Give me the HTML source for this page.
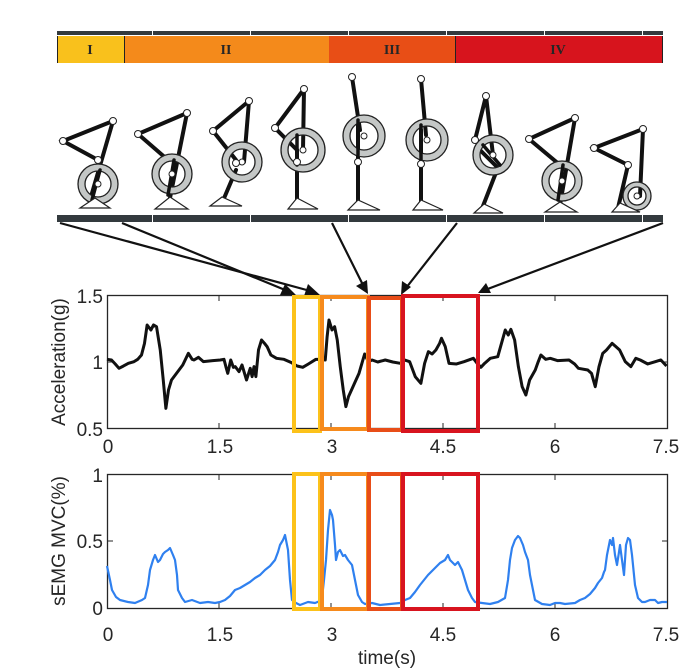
<!DOCTYPE html>
<html><head><meta charset="utf-8"><style>
html,body{margin:0;padding:0;background:#fff}
svg{display:block}
text{font-family:"Liberation Sans",sans-serif;font-size:19px;fill:#262626}
</style></head><body>
<svg width="691" height="672" viewBox="0 0 691 672" xmlns="http://www.w3.org/2000/svg">
<rect x="57" y="31" width="606" height="4" fill="#333a3e"/>
<g fill="#fff"><rect x="152" y="31" width="1" height="5"/><rect x="250" y="31" width="1" height="5"/><rect x="348" y="31" width="1" height="5"/><rect x="446" y="31" width="1" height="5"/><rect x="544" y="31" width="1" height="5"/><rect x="642" y="31" width="1" height="5"/></g>
<rect x="57" y="36" width="67" height="27" fill="#f9c11c"/>
<rect x="124" y="36" width="205" height="27" fill="#f48a1b"/>
<rect x="329" y="36" width="126" height="27" fill="#e84e16"/>
<rect x="455" y="36" width="208" height="27" fill="#d7141d"/>
<line x1="57.5" y1="36" x2="57.5" y2="63" stroke="#222"/><line x1="124.5" y1="36" x2="124.5" y2="63" stroke="#222"/><line x1="455.5" y1="36" x2="455.5" y2="63" stroke="#222"/><line x1="662.5" y1="36" x2="662.5" y2="63" stroke="#222"/>
<g text-anchor="middle">
<text x="90" y="54" style="font-family:'Liberation Serif',serif;font-size:14px;font-weight:bold" fill="#222">I</text>
<text x="226" y="54" style="font-family:'Liberation Serif',serif;font-size:14px;font-weight:bold" fill="#222">II</text>
<text x="392" y="54" style="font-family:'Liberation Serif',serif;font-size:14px;font-weight:bold" fill="#222">III</text>
<text x="558" y="54" style="font-family:'Liberation Serif',serif;font-size:14px;font-weight:bold" fill="#222">IV</text>
</g>
<rect x="57" y="215" width="606" height="7" fill="#333a3e"/>
<g fill="#fff"><rect x="152" y="215" width="1" height="7"/><rect x="250" y="215" width="1" height="7"/><rect x="348" y="215" width="1" height="7"/><rect x="446" y="215" width="1" height="7"/><rect x="544" y="215" width="1" height="7"/><rect x="642" y="215" width="1" height="7"/></g>

<g stroke="#111" stroke-width="4" fill="none" stroke-linecap="round">
<polyline points="113,121 63,141 98,160"/><line x1="113" y1="121" x2="90" y2="200"/>
<polyline points="187,113 138,134 168,160"/><line x1="187" y1="113" x2="170" y2="198"/>
<polyline points="249,101 213,131 236,160"/><line x1="249" y1="101" x2="244" y2="162"/><line x1="236" y1="170" x2="222" y2="203"/>
<polyline points="304,89 275,128 297,150"/><line x1="304" y1="89" x2="303" y2="150"/><line x1="297" y1="150" x2="297" y2="205"/>
<line x1="352" y1="77" x2="360" y2="130"/><line x1="358" y1="125" x2="358" y2="205"/>
<line x1="421" y1="79" x2="426" y2="135"/><line x1="421" y1="130" x2="421" y2="205"/>
<polyline points="475,140 486,96 493,155"/><line x1="478" y1="148" x2="500" y2="170"/><line x1="497" y1="170" x2="483" y2="206"/>
<polyline points="575,118 529,139 560,165"/><line x1="575" y1="118" x2="560" y2="205"/>
<polyline points="643,129 594,148 628,165"/><line x1="643" y1="129" x2="640" y2="196"/><line x1="628" y1="165" x2="618" y2="208"/>
</g>
<g fill="#c4c7c6" stroke="#222" stroke-width="1.3">
<path fill-rule="evenodd" d="M78,184a20,20 0 1,0 40,0a20,20 0 1,0 -40,0zM85,184a13,13 0 1,0 26,0a13,13 0 1,0 -26,0z"/>
<path fill-rule="evenodd" d="M152,174a20,20 0 1,0 40,0a20,20 0 1,0 -40,0zM159,174a13,13 0 1,0 26,0a13,13 0 1,0 -26,0z"/>
<path fill-rule="evenodd" d="M222,162a20,20 0 1,0 40,0a20,20 0 1,0 -40,0zM229,162a13,13 0 1,0 26,0a13,13 0 1,0 -26,0z"/>
<path fill-rule="evenodd" d="M281,150a22,22 0 1,0 44,0a22,22 0 1,0 -44,0zM288,150a15,15 0 1,0 30,0a15,15 0 1,0 -30,0z"/>
<path fill-rule="evenodd" d="M343,136a21,21 0 1,0 42,0a21,21 0 1,0 -42,0zM350,136a14,14 0 1,0 28,0a14,14 0 1,0 -28,0z"/>
<path fill-rule="evenodd" d="M406,140a21,21 0 1,0 42,0a21,21 0 1,0 -42,0zM413,140a14,14 0 1,0 28,0a14,14 0 1,0 -28,0z"/>
<path fill-rule="evenodd" d="M473,155a20,20 0 1,0 40,0a20,20 0 1,0 -40,0zM480,155a13,13 0 1,0 26,0a13,13 0 1,0 -26,0z"/>
<path fill-rule="evenodd" d="M542,181a20,20 0 1,0 40,0a20,20 0 1,0 -40,0zM549,181a13,13 0 1,0 26,0a13,13 0 1,0 -26,0z"/>
<path fill-rule="evenodd" d="M623,196a14,14 0 1,0 28,0a14,14 0 1,0 -28,0zM628,196a9,9 0 1,0 18,0a9,9 0 1,0 -18,0z"/>
</g>
<g stroke="#111" stroke-width="3.5" stroke-linecap="round">
<line x1="100" y1="170" x2="92" y2="200"/><line x1="174" y1="160" x2="168" y2="195"/><line x1="297" y1="135" x2="297" y2="165"/><line x1="358" y1="120" x2="358" y2="155"/><line x1="421" y1="125" x2="421" y2="160"/><line x1="563" y1="165" x2="558" y2="200"/><line x1="483" y1="145" x2="500" y2="165"/>
</g>
<g fill="#fff" stroke="#222" stroke-width="1">
<circle cx="98" cy="184" r="3"/><circle cx="172" cy="174" r="3"/><circle cx="242" cy="162" r="3"/><circle cx="303" cy="150" r="3"/><circle cx="364" cy="136" r="3"/><circle cx="427" cy="140" r="3"/><circle cx="493" cy="155" r="3"/><circle cx="562" cy="181" r="3"/><circle cx="637" cy="196" r="3"/>
<circle cx="113" cy="121" r="3.5"/><circle cx="63" cy="141" r="3.5"/><circle cx="98" cy="160" r="3.5"/>
<circle cx="187" cy="113" r="3.5"/><circle cx="138" cy="134" r="3.5"/>
<circle cx="249" cy="101" r="3.5"/><circle cx="213" cy="131" r="3.5"/><circle cx="236" cy="163" r="3.5"/>
<circle cx="304" cy="89" r="3.5"/><circle cx="275" cy="128" r="3.5"/><circle cx="297" cy="162" r="3.5"/>
<circle cx="352" cy="77" r="3.5"/><circle cx="358" cy="162" r="3.5"/>
<circle cx="421" cy="79" r="3.5"/><circle cx="421" cy="164" r="3.5"/>
<circle cx="486" cy="96" r="3.5"/><circle cx="475" cy="140" r="3.5"/>
<circle cx="575" cy="118" r="3.5"/><circle cx="529" cy="139" r="3.5"/>
<circle cx="643" cy="129" r="3.5"/><circle cx="594" cy="148" r="3.5"/><circle cx="628" cy="165" r="3.5"/>
</g>
<g fill="#fff" stroke="#222" stroke-width="1.2">
<polygon points="80,208 110,208 95,198"/><polygon points="155,209 188,209 170,197"/><polygon points="210,206 242,206 222,197"/><polygon points="288,209 318,209 297,198"/><polygon points="348,210 380,210 358,200"/><polygon points="413,210 443,210 421,200"/><polygon points="474,213 503,213 484,204"/><polygon points="545,212 577,212 560,202"/><polygon points="612,212 640,212 620,203"/>
</g>

<g stroke="#111" stroke-width="2.2" fill="#111">
<line x1="60" y1="223" x2="314" y2="292"/><line x1="122" y1="223" x2="290" y2="292"/><line x1="332" y1="223" x2="364" y2="287"/><line x1="457" y1="223" x2="406" y2="288"/><line x1="663" y1="223" x2="485" y2="290"/>
</g>
<g fill="#111">
<polygon points="320,295 304,296 308,284"/><polygon points="296,295 280,295 285,284"/><polygon points="368,294 356,286 367,280"/><polygon points="401,295 402,281 411,287"/><polygon points="478,293 486,283 491,293"/>
</g>

<rect x="107.5" y="295.5" width="560" height="133" fill="none" stroke="#262626" stroke-width="1.3"/>
<g stroke="#262626" stroke-width="1">
<path d="M219,296v5M331,296v5M443,296v5M555,296v5M219,428v-5M331,428v-5M443,428v-5M555,428v-5M108,362h5M667,362h-5"/>
</g>
<g transform="translate(100.25,280) scale(0.375,0.3333)">
<polyline fill="none" stroke="#111" stroke-width="3" vector-effect="non-scaling-stroke" stroke-linejoin="round" points="18,238 30,240 40,252 50,265 62,258 75,250 90,245 100,238 110,225 118,190 125,135 135,150 142,135 150,140 160,210 168,300 175,385 182,330 190,300 200,285 210,270 220,255 235,220 245,238 250,240 262,232 275,245 300,242 320,240 330,238 335,260 340,280 348,240 355,262 360,260 370,275 378,255 390,300 400,265 405,290 410,260 415,290 422,210 430,180 438,190 445,200 455,225 470,235 490,238 510,248 525,258 540,262 555,252 575,238 590,238 600,240 605,170 610,120 618,150 625,140 632,180 640,260 648,330 655,380 662,350 670,330 680,305 690,280 705,222 715,245 725,240 740,246 760,240 780,246 800,250 812,240 825,245 840,290 855,310 865,250 875,215 885,222 895,210 905,190 910,175 920,200 930,250 950,252 970,245 995,235 1005,250 1015,262 1025,250 1040,235 1060,230 1070,190 1080,150 1088,165 1095,148 1105,180 1115,260 1125,320 1135,345 1145,300 1160,270 1168,245 1175,225 1188,238 1200,235 1220,242 1250,240 1265,252 1275,265 1300,270 1310,280 1320,320 1330,260 1340,220 1350,210 1365,190 1375,200 1385,210 1400,245 1415,260 1428,235 1440,240 1460,252 1480,245 1495,240 1510,258"/>
</g>
<g text-anchor="middle">
<text x="108" y="453">0</text><text x="220" y="453">1.5</text><text x="332" y="453">3</text><text x="443" y="453">4.5</text><text x="555" y="453">6</text><text x="666" y="453">7.5</text>
</g>
<g text-anchor="end">
<text x="103" y="303">1.5</text><text x="103" y="369">1</text><text x="103" y="436">0.5</text>
</g>
<text transform="translate(65,362) rotate(-90)" text-anchor="middle">Acceleration(g)</text>

<rect x="107.5" y="474.5" width="560" height="134" fill="none" stroke="#262626" stroke-width="1.3"/>
<g stroke="#262626" stroke-width="1">
<path d="M219,475v5M331,475v5M443,475v5M555,475v5M219,608v-5M331,608v-5M443,608v-5M555,608v-5M108,541h5M667,541h-5"/>
</g>
<polyline fill="none" stroke="#2f80ef" stroke-width="2.2" stroke-linejoin="round" points="107,566 110,580 112,590 116,597 120,600 128,602 135,603 142,600 145,598 148,585 150,570 153,560 155,555 158,562 160,560 163,554 165,552 168,550 170,548 173,555 175,560 177,575 178,590 182,598 185,602 192,600 200,603 208,602 215,603 220,602 225,600 230,596 235,590 240,588 245,585 250,582 255,578 260,575 265,570 270,566 275,560 278,552 280,545 283,540 285,535 287,545 288,550 290,580 292,600 296,603 300,605 308,602 315,603 320,601 322,598 324,580 326,560 328,530 330,510 332,515 333,520 335,545 336,560 338,552 340,550 343,556 345,555 348,560 352,565 355,580 358,595 362,602 365,604 372,603 380,605 390,604 400,603 405,600 410,598 415,592 420,585 424,580 428,575 431,572 435,568 440,563 445,560 448,555 450,560 455,565 458,562 462,570 465,580 468,590 472,598 475,602 482,603 490,604 498,602 505,598 508,580 510,560 512,548 515,540 518,536 520,538 523,545 525,552 528,560 530,575 533,590 535,600 542,604 550,605 555,603 560,603 565,604 575,603 580,600 585,598 590,594 595,588 598,583 602,578 604,572 605,570 607,555 610,540 612,545 613,538 615,555 617,565 619,552 620,545 622,560 624,575 625,560 626,545 628,538 630,540 632,555 633,565 635,585 638,598 642,602 645,602 650,600 655,600 658,603 662,602 667,602"/>
<g text-anchor="middle">
<text x="108" y="641">0</text><text x="220" y="641">1.5</text><text x="332" y="641">3</text><text x="443" y="641">4.5</text><text x="555" y="641">6</text><text x="666" y="641">7.5</text>
<text x="387" y="664">time(s)</text>
</g>
<g text-anchor="end">
<text x="103" y="482">1</text><text x="103" y="548">0.5</text><text x="103" y="615">0</text>
</g>
<text transform="translate(65,541) rotate(-90)" text-anchor="middle">sEMG MVC(%)</text>

<g fill="none" stroke-width="4">
<rect x="294" y="297" width="26" height="134" stroke="#fcc21a"/>
<rect x="322" y="297" width="46" height="132" stroke="#f68a1c"/>
<rect x="369" y="298" width="33" height="132" stroke="#e84d18"/>
<rect x="403" y="296" width="75" height="135" stroke="#d8141f"/>
<rect x="294" y="474" width="26" height="135" stroke="#fcc21a"/>
<rect x="322" y="474" width="46" height="135" stroke="#f68a1c"/>
<rect x="369" y="474" width="33" height="135" stroke="#e84d18"/>
<rect x="403" y="474" width="75" height="135" stroke="#d8141f"/>
</g>
</svg>
</body></html>
